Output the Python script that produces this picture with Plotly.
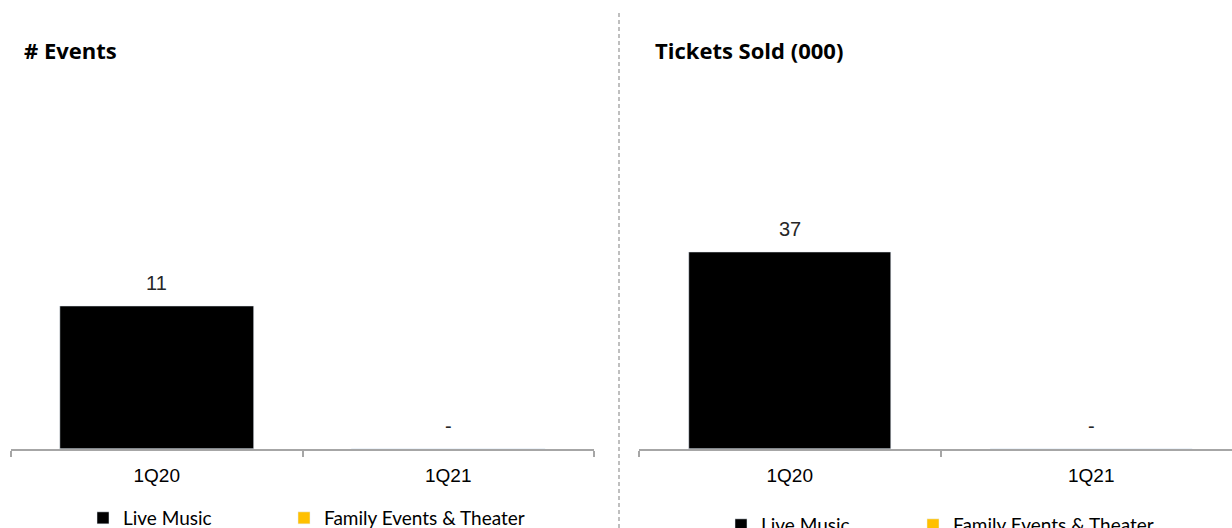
import plotly.graph_objects as go

W, H = 1232, 528

quarters = ["1Q20", "1Q21"]
events_live = [11, 0]
events_family = [0, 0]
tickets_live = [37, 0]
tickets_family = [0, 0]

series_names = ["Live Music", "Family Events & Theater"]
series_colors = ["#000000", "#FFC000"]
panel_titles = ["# Events", "Tickets Sold (000)"]

AXIS_GREY = "#A6A6A6"
LABEL_FONT = dict(family="Arial, Liberation Sans, sans-serif", size=20, color="#262626")
LEGEND_FONT = dict(family="Lato, Open Sans, sans-serif", size=19, color="#000000")


def px_x(p):
    return p / W


def px_y(p):
    return 1 - p / H


fig = go.Figure()

panels = [
    ("x", "y", [events_live, events_family], 0.665, ["legend", "legend2"]),
    ("x2", "y2", [tickets_live, tickets_family], 0.67, ["legend3", "legend4"]),
]
for xa, ya, series, bw, legs in panels:
    for name, color, vals, lg in zip(series_names, series_colors, series, legs):
        fig.add_trace(go.Bar(x=quarters, y=vals, name=name, marker_color=color, width=bw,
                             xaxis=xa, yaxis=ya, legend=lg, hoverinfo="skip"))

annotations = []
for xa, ya, series, _, _ in panels:
    for q, v in zip(quarters, series[0]):
        annotations.append(dict(x=q, y=v, xref=xa, yref=ya, text=str(v) if v else "-",
                                showarrow=False, yanchor="middle", yshift=23, font=LABEL_FONT))

TITLE_FONT = dict(family="Open Sans, Lato, sans-serif", size=22, color="#000000", weight="bold")
annotations.append(dict(x=px_x(22), y=px_y(50), xref="paper", yref="paper", text=panel_titles[0],
                        showarrow=False, xanchor="left", yanchor="middle", font=TITLE_FONT))
annotations.append(dict(x=px_x(653), y=px_y(50), xref="paper", yref="paper", text=panel_titles[1],
                        showarrow=False, xanchor="left", yanchor="middle", font=TITLE_FONT))

axis_common = dict(type="category", showline=True, linecolor=AXIS_GREY, linewidth=1.5,
                   ticks="outside", tickson="boundaries", ticklen=6, tickcolor=AXIS_GREY, tickwidth=1.5,
                   showgrid=False, zeroline=False, fixedrange=True, ticklabelstandoff=8,
                   tickfont=dict(family="Arial, Liberation Sans, sans-serif", size=19, color="#000000"))

bottom = (H - 449) / H


def legend_at(xpx, ypx):
    return dict(orientation="h", x=px_x(xpx), y=px_y(ypx), xanchor="left", yanchor="middle",
                bgcolor="rgba(0,0,0,0)", font=LEGEND_FONT)


fig.update_layout(
    width=W, height=H,
    margin=dict(l=0, r=0, t=0, b=0, autoexpand=False),
    paper_bgcolor="white", plot_bgcolor="white",
    barmode="overlay",
    xaxis=dict(domain=[px_x(11), px_x(594)], range=[-0.5, 1.5], anchor="y", **axis_common),
    yaxis=dict(domain=[bottom, 1], range=[0, 449 / 13.0], visible=False, fixedrange=True),
    xaxis2=dict(domain=[px_x(639), 1], range=[-0.5, -0.5 + 593 / 301.5], anchor="y2", **axis_common),
    yaxis2=dict(domain=[bottom, 1], range=[0, 449 / (197 / 37)], visible=False, fixedrange=True),
    legend=legend_at(83, 518),
    legend2=legend_at(284, 518),
    legend3=legend_at(721, 525),
    legend4=legend_at(913, 525),
    annotations=annotations,
    shapes=[dict(type="line", xref="paper", yref="paper", x0=px_x(619), x1=px_x(619),
                 y0=0, y1=px_y(12), line=dict(color="#BFBFBF", width=2, dash="4px,3px"))],
    showlegend=True,
)

fig.write_html("out.html")
